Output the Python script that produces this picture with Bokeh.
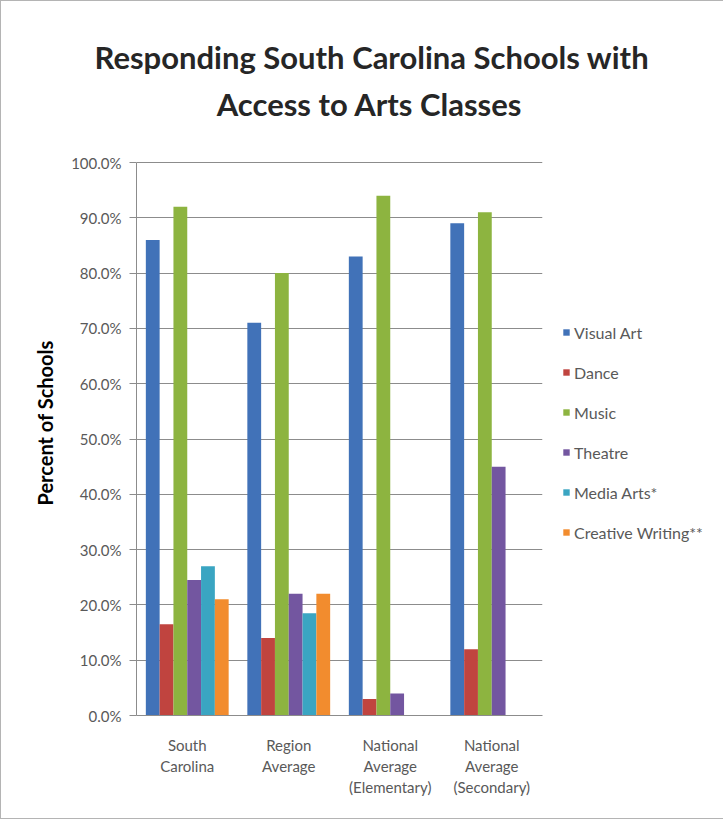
import numpy as np
from bokeh.plotting import figure
from bokeh.models import (ColumnDataSource, FactorRange, Legend, LegendItem, Label, Title,
                          PrintfTickFormatter, FixedTicker)
from bokeh.transform import dodge
from bokeh.embed import file_html
from bokeh.resources import INLINE

# ---- data ----
categories = ["South\nCarolina", "Region\nAverage",
              "National\nAverage\n(Elementary)", "National\nAverage\n(Secondary)"]
series_names = ["Visual Art", "Dance", "Music", "Theatre", "Media Arts*", "Creative Writing**"]
visual_art = [86.0, 71.0, 83.0, 89.0]
dance = [16.5, 14.0, 3.0, 12.0]
music = [92.0, 80.0, 94.0, 91.0]
theatre = [24.5, 22.0, 4.0, 45.0]
media_arts = [27.0, 18.5, np.nan, np.nan]
creative_writing = [21.0, 22.0, np.nan, np.nan]
y_ticks = [0, 10, 20, 30, 40, 50, 60, 70, 80, 90, 100]
title_lines = ["Responding South Carolina Schools with", "Access to Arts Classes"]
y_axis_title = "Percent of Schools"

series_values = [visual_art, dance, music, theatre, media_arts, creative_writing]
colors = ["#4172B8", "#C0443F", "#8DB440", "#7356A0", "#3AA5C2", "#F28C2E"]

src = ColumnDataSource(dict(cat=categories,
                            **{f"s{i}": np.array(v, dtype=float) for i, v in enumerate(series_values)}))

FRAME_H = 631          # plot area extends above 100% to hold the 2nd title line
PX_PER_100 = 553       # pixels between 0% and 100%
p = figure(x_range=FactorRange(*categories), y_range=(0, 100 * FRAME_H / PX_PER_100),
           frame_width=406, frame_height=FRAME_H, output_backend="svg", toolbar_location=None,
           min_border_left=135, min_border_right=166, min_border_top=83, min_border_bottom=103)
p.styles = {"border": "1px solid #b4b4b4"}

bw = 0.136
renderers = []
for i, name in enumerate(series_names):
    r = p.vbar(x=dodge("cat", (i - 2.5) * bw, range=p.x_range), top=f"s{i}", width=bw,
               source=src, fill_color=colors[i], line_color=None)
    renderers.append(r)

legend = Legend(items=[LegendItem(label=n, renderers=[r]) for n, r in zip(series_names, renderers)],
                location=(20, 173), glyph_width=8, glyph_height=8, label_standoff=4,
                spacing=20, label_height=20, label_text_font="Lato", label_text_font_size="16px",
                label_text_color="#595959", border_line_color=None, background_fill_alpha=0,
                margin=0, padding=0)
p.add_layout(legend, "right")

# title: first line as a plot title, second line inside the (extended) plot area
t1 = Title(text=title_lines[0], align="left", text_font="Lato",
           text_font_size="31px", text_font_style="bold", text_color="#262626", offset=-42, standoff=17)
p.add_layout(t1, "above")
p.add_layout(Label(x=2.296, y=110.5, text=title_lines[1], text_align="center", text_baseline="middle",
                   text_font="Lato", text_font_size="31px", text_font_style="bold",
                   text_color="#262626"))

# y axis title, centred on the 0-100% span (not on the extended plot area)
ytitle = Title(text=y_axis_title, align="left", text_font="Lato", text_font_size="20px",
               text_font_style="bold", text_color="#000000", offset=210, standoff=24)
p.add_layout(ytitle, "left")

p.yaxis.bounds = (0, 100)
p.yaxis.ticker = FixedTicker(ticks=y_ticks)
p.yaxis.formatter = PrintfTickFormatter(format="%.1f%%")
p.yaxis.major_label_text_font = "Lato"
p.yaxis.major_label_text_font_size = "15px"
p.yaxis.major_label_text_color = "#595959"
p.yaxis.major_label_standoff = 8
p.yaxis.major_tick_out = 7
p.yaxis.major_tick_in = 0
p.yaxis.minor_tick_line_color = None
p.yaxis.axis_line_color = "#8c8c8c"
p.yaxis.major_tick_line_color = "#8c8c8c"

p.xaxis.major_label_text_font = "Lato"
p.xaxis.major_label_text_font_size = "15px"
p.xaxis.major_label_text_color = "#595959"
p.xaxis.major_label_text_line_height = 1.17
p.xaxis.major_label_standoff = 20
p.xaxis.major_tick_out = 0
p.xaxis.major_tick_line_color = None
p.xaxis.axis_line_color = "#8c8c8c"

p.xgrid.grid_line_color = None
p.ygrid.grid_line_color = "#8c8c8c"
p.ygrid.grid_line_width = 1
p.outline_line_color = None
p.background_fill_color = "white"
p.border_fill_color = "white"

open("out.html", "w").write(file_html(p, INLINE))
